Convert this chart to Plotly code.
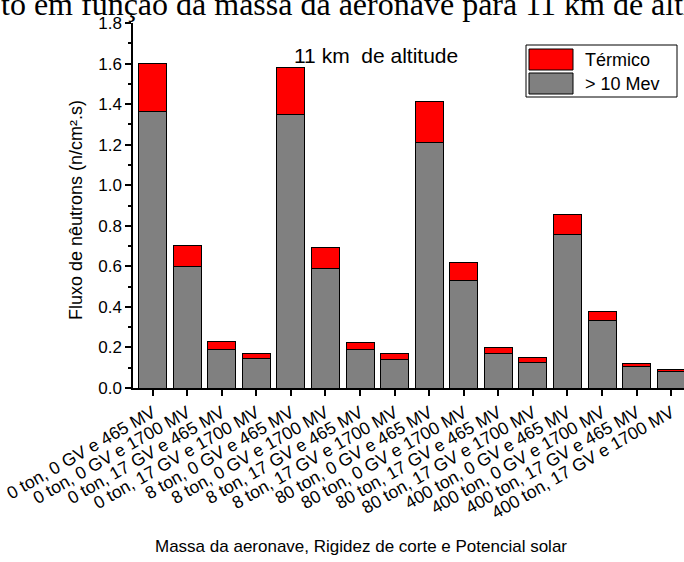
import plotly.graph_objects as go

categories = [
    "0 ton, 0 GV e 465 MV", "0 ton, 0 GV e 1700 MV", "0 ton, 17 GV e 465 MV", "0 ton, 17 GV e 1700 MV",
    "8 ton, 0 GV e 465 MV", "8 ton, 0 GV e 1700 MV", "8 ton, 17 GV e 465 MV", "8 ton, 17 GV e 1700 MV",
    "80 ton, 0 GV e 465 MV", "80 ton, 0 GV e 1700 MV", "80 ton, 17 GV e 465 MV", "80 ton, 17 GV e 1700 MV",
    "400 ton, 0 GV e 465 MV", "400 ton, 0 GV e 1700 MV", "400 ton, 17 GV e 465 MV", "400 ton, 17 GV e 1700 MV",
]
fast = [1.365, 0.598, 0.191, 0.145, 1.350, 0.590, 0.190, 0.142,
        1.212, 0.530, 0.168, 0.127, 0.759, 0.333, 0.106, 0.079]
total = [1.602, 0.703, 0.227, 0.171, 1.582, 0.693, 0.224, 0.170,
         1.411, 0.619, 0.199, 0.150, 0.856, 0.377, 0.120, 0.091]
thermal = [round(t - f, 3) for t, f in zip(total, fast)]

yticks = [0.0, 0.2, 0.4, 0.6, 0.8, 1.0, 1.2, 1.4, 1.6, 1.8]

W, H = 684, 562
L, R, T, B = 133, 0, 23, 174
PW, PH = W - L - R, H - T - B

def px(x):
    return (x - L) / PW

def py(y):
    return (H - B - y) / PH

font = "Liberation Sans, Arial, sans-serif"
xs = list(range(len(categories)))

fig = go.Figure()
fig.add_trace(go.Bar(x=xs, y=fast, name="> 10 Mev", marker=dict(color="#808080", line=dict(color="black", width=1)), width=0.81))
fig.add_trace(go.Bar(x=xs, y=thermal, name="Térmico", marker=dict(color="#ff0000", line=dict(color="black", width=1)), width=0.81))

fig.update_layout(
    barmode="stack",
    width=W, height=H,
    margin=dict(l=L, r=R, t=T, b=B, autoexpand=False),
    paper_bgcolor="white", plot_bgcolor="white",
    showlegend=False,
    font=dict(family=font, size=17, color="black"),
    xaxis=dict(
        range=[-0.567, 15.37], tickmode="array", tickvals=xs, ticktext=categories,
        tickangle=-30, ticks="outside", ticklen=6, tickcolor="black", tickwidth=1.5,
        showline=True, linecolor="black", linewidth=1.5, showgrid=False, zeroline=False,
        tickfont=dict(size=17.5), automargin=False,
    ),
    yaxis=dict(
        range=[0, 1.8], tickmode="array", tickvals=yticks, ticktext=[f"{v:.1f}" for v in yticks],
        ticks="outside", ticklen=6, tickcolor="black", tickwidth=1.5,
        minor=dict(dtick=0.1, ticks="outside", ticklen=3, tickcolor="black", showgrid=False),
        showline=True, linecolor="black", linewidth=1.5, showgrid=False, zeroline=False,
        tickfont=dict(size=17), automargin=False,
    ),
)

# Axis titles
fig.add_annotation(xref="paper", yref="paper", x=px(361), y=py(546), text="Massa da aeronave, Rigidez de corte e Potencial solar",
                   showarrow=False, xanchor="center", yanchor="middle", font=dict(size=17))
fig.add_annotation(xref="paper", yref="paper", x=px(76), y=py(210), text="Fluxo de nêutrons (n/cm².s)",
                   showarrow=False, xanchor="center", yanchor="middle", textangle=-90, font=dict(size=18))

# Custom legend box
fig.add_shape(type="rect", xref="paper", yref="paper", x0=px(526), x1=px(677), y0=py(97), y1=py(45),
              line=dict(color="black", width=1), fillcolor="white")
fig.add_shape(type="rect", xref="paper", yref="paper", x0=px(529), x1=px(573), y0=py(70), y1=py(49),
              line=dict(color="black", width=1), fillcolor="#ff0000")
fig.add_shape(type="rect", xref="paper", yref="paper", x0=px(529), x1=px(573), y0=py(94), y1=py(73),
              line=dict(color="black", width=1), fillcolor="#808080")
fig.add_annotation(xref="paper", yref="paper", x=px(583), y=py(60), text="Térmico", showarrow=False,
                   xanchor="left", yanchor="middle", font=dict(size=18))
fig.add_annotation(xref="paper", yref="paper", x=px(583), y=py(84), text="> 10 Mev", showarrow=False,
                   xanchor="left", yanchor="middle", font=dict(size=18))

# In-plot label
fig.add_annotation(xref="paper", yref="paper", x=px(376), y=py(56), text="11 km  de altitude", showarrow=False,
                   xanchor="center", yanchor="middle", font=dict(size=21))

# Cropped title at top
fig.add_annotation(xref="paper", yref="paper", x=px(-1), y=py(4), text="to em função da massa da aeronave para 11 km de altitude",
                   showarrow=False, xanchor="left", yanchor="middle",
                   font=dict(family="Liberation Serif, Times New Roman, serif", size=32))

fig.write_html("out.html", config={"displayModeBar": False},
               post_script="document.body.style.margin='0';document.body.style.overflow='hidden';")
